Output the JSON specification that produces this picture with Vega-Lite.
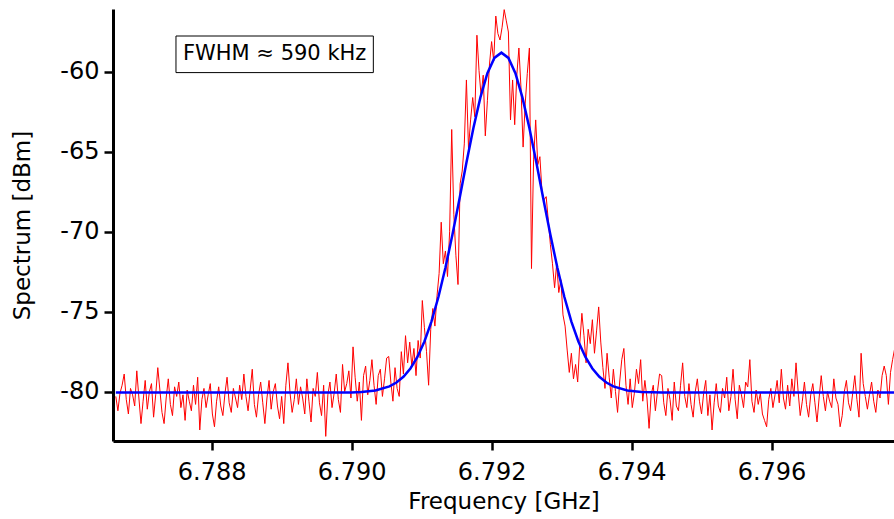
{
"$schema":"https://vega.github.io/schema/vega-lite/v6.json",
"autosize":"none",
"width":781,"height":432,
"padding":{"left":113,"top":9,"right":0,"bottom":78},
"background":"white",
"config":{"view":{"stroke":null},
"axis":{"labelFont":"DejaVu Sans","titleFont":"DejaVu Sans","titleFontWeight":"normal","labelColor":"black","titleColor":"black","domainColor":"black","tickColor":"black","grid":false,"domainWidth":3,"tickWidth":2.5,"tickSize":9,"labelFontSize":24,"titleFontSize":23}},
"datasets":{
"red":[
{"f":6.78663,"p":-80.3},{"f":6.78666,"p":-81.2},{"f":6.78669,"p":-80.1},{"f":6.78672,"p":-79.6},{"f":6.78675,"p":-78.9},{"f":6.78678,"p":-80.5},{"f":6.78681,"p":-81.4},{"f":6.78684,"p":-79.8},{"f":6.78687,"p":-80.2},{"f":6.78690,"p":-80.9},
{"f":6.78693,"p":-78.7},{"f":6.78696,"p":-80.4},{"f":6.78699,"p":-82.0},{"f":6.78702,"p":-80.6},{"f":6.78705,"p":-79.3},{"f":6.78708,"p":-81.1},{"f":6.78711,"p":-80.0},{"f":6.78714,"p":-79.5},{"f":6.78717,"p":-81.6},{"f":6.78720,"p":-80.2},
{"f":6.78723,"p":-78.5},{"f":6.78726,"p":-79.9},{"f":6.78729,"p":-81.3},{"f":6.78732,"p":-82.0},{"f":6.78735,"p":-80.4},{"f":6.78738,"p":-79.2},{"f":6.78741,"p":-80.8},{"f":6.78744,"p":-81.5},{"f":6.78747,"p":-79.7},{"f":6.78750,"p":-80.3},
{"f":6.78753,"p":-79.4},{"f":6.78756,"p":-81.0},{"f":6.78759,"p":-80.2},{"f":6.78762,"p":-81.8},{"f":6.78765,"p":-79.9},{"f":6.78768,"p":-80.6},{"f":6.78771,"p":-81.2},{"f":6.78774,"p":-79.6},{"f":6.78777,"p":-80.8},{"f":6.78780,"p":-79.1},
{"f":6.78783,"p":-82.4},{"f":6.78786,"p":-80.5},{"f":6.78789,"p":-79.8},{"f":6.78792,"p":-81.0},{"f":6.78795,"p":-80.2},{"f":6.78798,"p":-79.5},{"f":6.78801,"p":-81.4},{"f":6.78804,"p":-82.2},{"f":6.78807,"p":-80.6},{"f":6.78810,"p":-79.7},
{"f":6.78813,"p":-80.9},{"f":6.78816,"p":-81.5},{"f":6.78819,"p":-80.1},{"f":6.78822,"p":-79.1},{"f":6.78825,"p":-80.7},{"f":6.78828,"p":-81.3},{"f":6.78831,"p":-79.8},{"f":6.78834,"p":-80.4},{"f":6.78837,"p":-81.0},{"f":6.78840,"p":-79.6},
{"f":6.78843,"p":-80.5},{"f":6.78846,"p":-78.9},{"f":6.78849,"p":-80.3},{"f":6.78852,"p":-81.2},{"f":6.78855,"p":-79.9},{"f":6.78858,"p":-78.6},{"f":6.78861,"p":-80.8},{"f":6.78864,"p":-81.6},{"f":6.78867,"p":-80.2},{"f":6.78870,"p":-79.4},
{"f":6.78873,"p":-80.7},{"f":6.78876,"p":-82.0},{"f":6.78879,"p":-80.4},{"f":6.78882,"p":-79.3},{"f":6.78885,"p":-81.1},{"f":6.78888,"p":-80.0},{"f":6.78891,"p":-79.5},{"f":6.78894,"p":-80.9},{"f":6.78897,"p":-81.7},{"f":6.78900,"p":-80.3},
{"f":6.78903,"p":-82.0},{"f":6.78906,"p":-79.6},{"f":6.78909,"p":-78.2},{"f":6.78912,"p":-80.1},{"f":6.78915,"p":-81.3},{"f":6.78918,"p":-80.5},{"f":6.78921,"p":-79.2},{"f":6.78924,"p":-80.8},{"f":6.78927,"p":-79.7},{"f":6.78930,"p":-80.4},
{"f":6.78933,"p":-81.4},{"f":6.78936,"p":-79.2},{"f":6.78939,"p":-80.6},{"f":6.78942,"p":-81.9},{"f":6.78945,"p":-79.8},{"f":6.78948,"p":-80.3},{"f":6.78951,"p":-78.8},{"f":6.78954,"p":-80.7},{"f":6.78957,"p":-81.5},{"f":6.78960,"p":-79.6},
{"f":6.78963,"p":-82.8},{"f":6.78966,"p":-80.2},{"f":6.78969,"p":-79.4},{"f":6.78972,"p":-81.0},{"f":6.78975,"p":-80.1},{"f":6.78978,"p":-78.9},{"f":6.78981,"p":-80.5},{"f":6.78984,"p":-81.3},{"f":6.78987,"p":-78.3},{"f":6.78990,"p":-80.0},
{"f":6.78993,"p":-79.5},{"f":6.78996,"p":-78.7},{"f":6.78999,"p":-80.4},{"f":6.79002,"p":-77.2},{"f":6.79005,"p":-79.1},{"f":6.79008,"p":-80.6},{"f":6.79011,"p":-79.4},{"f":6.79014,"p":-81.8},{"f":6.79017,"p":-79.0},{"f":6.79020,"p":-78.4},
{"f":6.79023,"p":-80.2},{"f":6.79026,"p":-79.3},{"f":6.79029,"p":-78.0},{"f":6.79032,"p":-79.6},{"f":6.79035,"p":-80.8},{"f":6.79038,"p":-79.0},{"f":6.79041,"p":-78.6},{"f":6.79044,"p":-80.3},{"f":6.79047,"p":-79.2},{"f":6.79050,"p":-77.9},
{"f":6.79053,"p":-77.8},{"f":6.79056,"p":-79.4},{"f":6.79059,"p":-80.6},{"f":6.79062,"p":-78.5},{"f":6.79065,"p":-79.8},{"f":6.79068,"p":-80.3},{"f":6.79071,"p":-77.5},{"f":6.79074,"p":-78.9},{"f":6.79077,"p":-76.5},{"f":6.79080,"p":-78.2},
{"f":6.79083,"p":-76.9},{"f":6.79086,"p":-78.4},{"f":6.79089,"p":-77.3},{"f":6.79092,"p":-79.0},{"f":6.79095,"p":-76.8},{"f":6.79098,"p":-77.9},{"f":6.79101,"p":-74.3},{"f":6.79104,"p":-76.0},{"f":6.79107,"p":-77.5},{"f":6.79110,"p":-79.6},
{"f":6.79113,"p":-76.1},{"f":6.79116,"p":-74.8},{"f":6.79119,"p":-75.9},{"f":6.79122,"p":-74.0},{"f":6.79125,"p":-72.6},{"f":6.79128,"p":-69.4},{"f":6.79131,"p":-72.0},{"f":6.79134,"p":-71.2},{"f":6.79137,"p":-72.8},{"f":6.79140,"p":-70.0},
{"f":6.79143,"p":-63.6},{"f":6.79146,"p":-68.9},{"f":6.79149,"p":-71.5},{"f":6.79152,"p":-73.3},{"f":6.79155,"p":-67.0},{"f":6.79158,"p":-66.2},{"f":6.79161,"p":-64.5},{"f":6.79164,"p":-60.5},{"f":6.79167,"p":-64.8},{"f":6.79170,"p":-63.0},
{"f":6.79173,"p":-61.6},{"f":6.79176,"p":-62.8},{"f":6.79179,"p":-57.7},{"f":6.79182,"p":-59.9},{"f":6.79185,"p":-61.5},{"f":6.79188,"p":-60.2},{"f":6.79191,"p":-64.0},{"f":6.79194,"p":-61.8},{"f":6.79197,"p":-59.5},{"f":6.79200,"p":-58.1},
{"f":6.79203,"p":-59.3},{"f":6.79206,"p":-56.5},{"f":6.79209,"p":-57.6},{"f":6.79212,"p":-58.0},{"f":6.79215,"p":-57.2},{"f":6.79218,"p":-56.1},{"f":6.79221,"p":-56.8},{"f":6.79224,"p":-57.5},{"f":6.79227,"p":-63.0},{"f":6.79230,"p":-60.5},
{"f":6.79233,"p":-63.3},{"f":6.79236,"p":-60.2},{"f":6.79239,"p":-58.5},{"f":6.79242,"p":-61.0},{"f":6.79245,"p":-64.7},{"f":6.79248,"p":-62.0},{"f":6.79251,"p":-60.1},{"f":6.79254,"p":-58.5},{"f":6.79257,"p":-72.3},{"f":6.79260,"p":-65.5},
{"f":6.79263,"p":-63.0},{"f":6.79266,"p":-65.8},{"f":6.79269,"p":-65.3},{"f":6.79272,"p":-67.5},{"f":6.79275,"p":-68.0},{"f":6.79278,"p":-67.8},{"f":6.79281,"p":-69.3},{"f":6.79284,"p":-70.8},{"f":6.79287,"p":-72.0},{"f":6.79290,"p":-73.5},
{"f":6.79293,"p":-72.0},{"f":6.79296,"p":-73.8},{"f":6.79299,"p":-73.0},{"f":6.79302,"p":-75.2},{"f":6.79305,"p":-75.9},{"f":6.79308,"p":-77.4},{"f":6.79311,"p":-78.8},{"f":6.79314,"p":-77.6},{"f":6.79317,"p":-79.2},{"f":6.79320,"p":-78.3},
{"f":6.79323,"p":-79.4},{"f":6.79326,"p":-77.0},{"f":6.79329,"p":-75.1},{"f":6.79332,"p":-76.5},{"f":6.79335,"p":-78.2},{"f":6.79338,"p":-76.1},{"f":6.79341,"p":-77.0},{"f":6.79344,"p":-75.5},{"f":6.79347,"p":-77.6},{"f":6.79350,"p":-76.2},
{"f":6.79353,"p":-74.7},{"f":6.79356,"p":-76.9},{"f":6.79359,"p":-78.5},{"f":6.79362,"p":-79.8},{"f":6.79365,"p":-77.6},{"f":6.79368,"p":-79.1},{"f":6.79371,"p":-80.4},{"f":6.79374,"p":-78.6},{"f":6.79377,"p":-80.0},{"f":6.79380,"p":-81.3},
{"f":6.79383,"p":-79.4},{"f":6.79386,"p":-78.0},{"f":6.79389,"p":-77.3},{"f":6.79392,"p":-79.6},{"f":6.79395,"p":-80.8},{"f":6.79398,"p":-79.2},{"f":6.79401,"p":-81.0},{"f":6.79404,"p":-80.1},{"f":6.79407,"p":-78.6},{"f":6.79410,"p":-79.5},
{"f":6.79413,"p":-78.0},{"f":6.79416,"p":-80.6},{"f":6.79419,"p":-79.3},{"f":6.79422,"p":-80.4},{"f":6.79425,"p":-82.3},{"f":6.79428,"p":-80.2},{"f":6.79431,"p":-79.6},{"f":6.79434,"p":-81.2},{"f":6.79437,"p":-80.0},{"f":6.79440,"p":-78.9},
{"f":6.79443,"p":-79.0},{"f":6.79446,"p":-80.7},{"f":6.79449,"p":-81.5},{"f":6.79452,"p":-79.8},{"f":6.79455,"p":-80.5},{"f":6.79458,"p":-81.8},{"f":6.79461,"p":-79.4},{"f":6.79464,"p":-80.9},{"f":6.79467,"p":-81.2},{"f":6.79470,"p":-79.6},
{"f":6.79473,"p":-78.2},{"f":6.79476,"p":-80.3},{"f":6.79479,"p":-81.0},{"f":6.79482,"p":-79.5},{"f":6.79485,"p":-80.8},{"f":6.79488,"p":-81.6},{"f":6.79491,"p":-80.0},{"f":6.79494,"p":-79.2},{"f":6.79497,"p":-80.6},{"f":6.79500,"p":-81.4},
{"f":6.79503,"p":-80.1},{"f":6.79506,"p":-79.3},{"f":6.79509,"p":-81.5},{"f":6.79512,"p":-80.2},{"f":6.79515,"p":-82.4},{"f":6.79518,"p":-80.7},{"f":6.79521,"p":-79.5},{"f":6.79524,"p":-80.9},{"f":6.79527,"p":-81.3},{"f":6.79530,"p":-79.8},
{"f":6.79533,"p":-80.4},{"f":6.79536,"p":-79.1},{"f":6.79539,"p":-81.2},{"f":6.79542,"p":-80.3},{"f":6.79545,"p":-78.6},{"f":6.79548,"p":-80.5},{"f":6.79551,"p":-81.7},{"f":6.79554,"p":-79.6},{"f":6.79557,"p":-80.2},{"f":6.79560,"p":-81.0},
{"f":6.79563,"p":-79.4},{"f":6.79566,"p":-79.7},{"f":6.79569,"p":-78.0},{"f":6.79572,"p":-80.6},{"f":6.79575,"p":-81.3},{"f":6.79578,"p":-79.9},{"f":6.79581,"p":-80.8},{"f":6.79584,"p":-80.1},{"f":6.79587,"p":-81.4},{"f":6.79590,"p":-81.8},
{"f":6.79593,"p":-82.2},{"f":6.79596,"p":-80.5},{"f":6.79599,"p":-79.8},{"f":6.79602,"p":-81.0},{"f":6.79605,"p":-80.2},{"f":6.79608,"p":-79.3},{"f":6.79611,"p":-80.7},{"f":6.79614,"p":-78.6},{"f":6.79617,"p":-80.4},{"f":6.79620,"p":-81.1},
{"f":6.79623,"p":-79.6},{"f":6.79626,"p":-80.9},{"f":6.79629,"p":-79.2},{"f":6.79632,"p":-80.3},{"f":6.79635,"p":-78.2},{"f":6.79638,"p":-80.0},{"f":6.79641,"p":-81.5},{"f":6.79644,"p":-80.6},{"f":6.79647,"p":-79.4},{"f":6.79650,"p":-80.8},
{"f":6.79653,"p":-81.6},{"f":6.79656,"p":-80.2},{"f":6.79659,"p":-79.5},{"f":6.79662,"p":-80.7},{"f":6.79665,"p":-81.9},{"f":6.79668,"p":-80.4},{"f":6.79671,"p":-79.0},{"f":6.79674,"p":-80.3},{"f":6.79677,"p":-81.2},{"f":6.79680,"p":-80.0},
{"f":6.79683,"p":-80.6},{"f":6.79686,"p":-81.0},{"f":6.79689,"p":-79.2},{"f":6.79692,"p":-80.4},{"f":6.79695,"p":-80.8},{"f":6.79698,"p":-82.2},{"f":6.79701,"p":-81.5},{"f":6.79704,"p":-80.0},{"f":6.79707,"p":-79.3},{"f":6.79710,"p":-80.7},
{"f":6.79713,"p":-81.2},{"f":6.79716,"p":-80.1},{"f":6.79719,"p":-79.0},{"f":6.79722,"p":-80.5},{"f":6.79725,"p":-81.6},{"f":6.79728,"p":-77.6},{"f":6.79731,"p":-79.5},{"f":6.79734,"p":-80.3},{"f":6.79737,"p":-81.1},{"f":6.79740,"p":-80.2},
{"f":6.79743,"p":-79.4},{"f":6.79746,"p":-80.6},{"f":6.79749,"p":-81.3},{"f":6.79752,"p":-79.9},{"f":6.79755,"p":-80.4},{"f":6.79758,"p":-79.0},{"f":6.79761,"p":-78.4},{"f":6.79764,"p":-79.0},{"f":6.79767,"p":-80.8},{"f":6.79770,"p":-78.8},{"f":6.79773,"p":-78.0},{"f":6.79776,"p":-77.3}
],
"blue":[
{"f":6.78663,"p":-80.06},{"f":6.78900,"p":-80.06},{"f":6.79000,"p":-80.05},{"f":6.79014,"p":-80.02},{"f":6.79034,"p":-79.93},{"f":6.79054,"p":-79.67},{"f":6.79064,"p":-79.43},{"f":6.79074,"p":-79.07},{"f":6.79084,"p":-78.55},{"f":6.79094,"p":-77.83},{"f":6.79104,"p":-76.86},{"f":6.79114,"p":-75.62},{"f":6.79124,"p":-74.08},{"f":6.79134,"p":-72.25},{"f":6.79144,"p":-70.19},{"f":6.79154,"p":-67.96},{"f":6.79164,"p":-65.68},{"f":6.79174,"p":-63.51},{"f":6.79184,"p":-61.59},{"f":6.79194,"p":-60.08},{"f":6.79204,"p":-59.12},{"f":6.79214,"p":-58.79},{"f":6.79224,"p":-59.12},{"f":6.79234,"p":-60.08},{"f":6.79244,"p":-61.59},{"f":6.79254,"p":-63.51},{"f":6.79264,"p":-65.68},{"f":6.79274,"p":-67.96},{"f":6.79284,"p":-70.19},{"f":6.79294,"p":-72.25},{"f":6.79304,"p":-74.08},{"f":6.79314,"p":-75.62},{"f":6.79324,"p":-76.86},{"f":6.79334,"p":-77.83},{"f":6.79344,"p":-78.55},{"f":6.79354,"p":-79.07},{"f":6.79364,"p":-79.43},{"f":6.79374,"p":-79.67},{"f":6.79394,"p":-79.93},{"f":6.79414,"p":-80.02},{"f":6.79444,"p":-80.05},{"f":6.79500,"p":-80.06},{"f":6.79776,"p":-80.06}
],
"box":[{"f":6.78749,"f2":6.79031,"p":-57.75,"p2":-60.04,"fc":6.78890,"pc":-58.89,"label":"FWHM ≈ 590 kHz"}]
},
"layer":[
{"data":{"name":"red"},"mark":{"type":"line","color":"#ff0000","strokeWidth":1,"clip":true,"interpolate":"linear"},
 "encoding":{
  "x":{"field":"f","type":"quantitative","scale":{"domain":[6.78659,6.79775],"nice":false,"zero":false},
       "axis":{"title":"Frequency [GHz]","values":[6.788,6.79,6.792,6.794,6.796],"format":".3f","labelPadding":10,"titlePadding":6}},
  "y":{"field":"p","type":"quantitative","scale":{"domain":[-83.09,-56.06],"nice":false,"zero":false},
       "axis":{"title":"Spectrum [dBm]","values":[-80,-75,-70,-65,-60],"labelExpr":"'' + datum.value","labelPadding":5,"titlePadding":25}}
 }},
{"data":{"name":"blue"},"mark":{"type":"line","color":"#0000ff","strokeWidth":2.5,"clip":true},
 "encoding":{"x":{"field":"f","type":"quantitative"},"y":{"field":"p","type":"quantitative"}}},
{"data":{"name":"box"},"mark":{"type":"rect","fill":"white","stroke":"black","strokeWidth":1},
 "encoding":{"x":{"field":"f","type":"quantitative"},"x2":{"field":"f2"},"y":{"field":"p","type":"quantitative"},"y2":{"field":"p2"}}},
{"data":{"name":"box"},"mark":{"type":"text","font":"DejaVu Sans","fontSize":21,"color":"black","align":"center","baseline":"middle"},
 "encoding":{"x":{"field":"fc","type":"quantitative"},"y":{"field":"pc","type":"quantitative"},"text":{"field":"label"}}}
]
}
